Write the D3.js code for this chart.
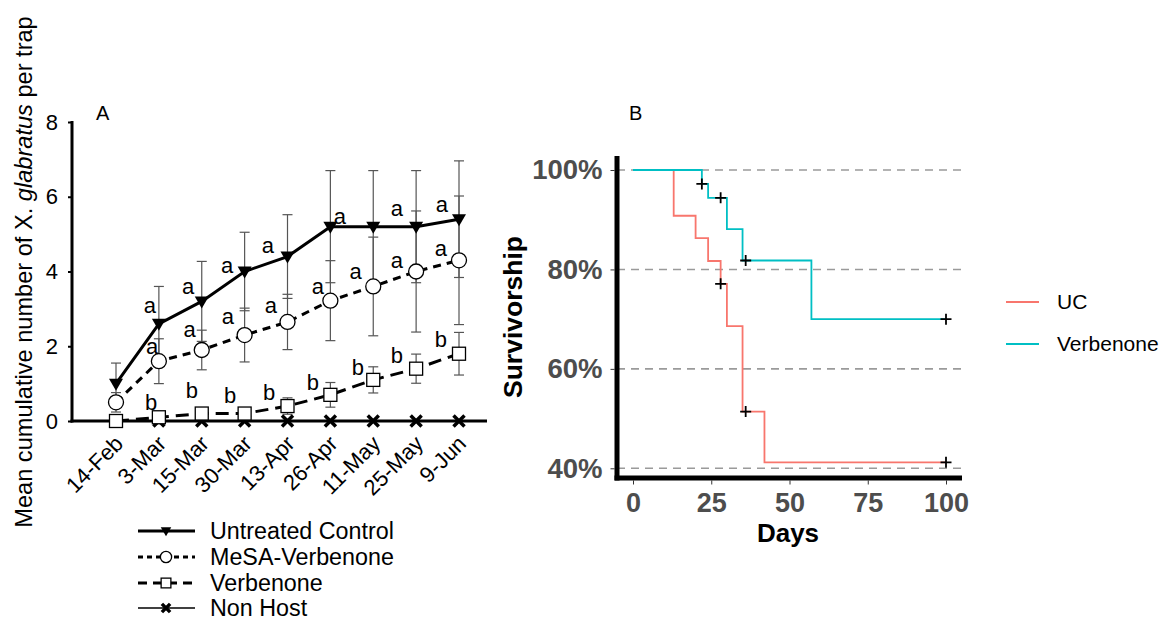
<!DOCTYPE html>
<html>
<head>
<meta charset="utf-8">
<script src="https://cdn.jsdelivr.net/npm/d3@7"></script>
<style>
  body { margin: 0; background: #fff; }
  svg { display: block; font-family: Arial, 'Liberation Sans', sans-serif; }
</style>
</head>
<body>
<div class="canvas"></div>
<script>
// panel A data: cumulative trap catches
const dates = ['14-Feb', '3-Mar', '15-Mar', '30-Mar', '13-Apr', '26-Apr', '11-May', '25-May', '9-Jun'];
const untreated = [1.0, 2.6, 3.2, 4.0, 4.4, 5.2, 5.2, 5.2, 5.4];
const untreatedSE = [0.55, 1.0, 1.07, 1.05, 1.12, 1.5, 1.5, 1.5, 1.56];
const mesa = [0.5, 1.6, 1.9, 2.3, 2.65, 3.22, 3.6, 4.0, 4.3];
const mesaSE = [0.26, 0.6, 0.53, 0.72, 0.74, 1.07, 1.32, 1.62, 1.72];
const verbenone = [0, 0.1, 0.2, 0.2, 0.4, 0.7, 1.1, 1.4, 1.8];
const verbenoneSE = [0, 0, 0, 0, 0.22, 0.33, 0.35, 0.39, 0.57];
const nonHost = [0, 0, 0, 0, 0, 0, 0, 0, 0];
const yTicksA = [0, 2, 4, 6, 8];

// significance letters, placed in data units (date index, y value)
const lettersUntreated = [[0.79, 3.05], [1.68, 3.56], [2.59, 4.12], [3.54, 4.65], [5.22, 5.43], [6.55, 5.64], [7.6, 5.75]];
const lettersMesa = [[0.84, 1.95], [1.72, 2.41], [2.61, 2.75], [3.61, 3.05], [4.71, 3.56], [5.59, 3.96], [6.55, 4.25], [7.58, 4.57]];
const lettersVerbenone = [[0.82, 0.51], [1.77, 0.83], [2.66, 0.7], [3.57, 0.78], [4.59, 1.04], [5.64, 1.44], [6.55, 1.76], [7.58, 2.19]];

// panel B data: survival steps [day, survival]
const ucSteps = [[0, 1], [13, 0.908], [20, 0.863], [24, 0.817], [28, 0.771], [30, 0.686], [35, 0.514], [42, 0.412], [100, 0.412]];
const ucCensor = [[28, 0.771], [36, 0.514], [100, 0.412]];
const verbSteps = [[0, 1], [22, 0.972], [24, 0.944], [30, 0.881], [35, 0.818], [57, 0.70], [100, 0.70]];
const verbCensor = [[22, 0.972], [28, 0.944], [36, 0.818], [100, 0.70]];
const yTicksB = [0.4, 0.6, 0.8, 1.0];
const xTicksB = [0, 25, 50, 75, 100];

const svg = d3.select('.canvas').append('svg')
  .attr('width', 1160)
  .attr('height', 621);

// !------------------------------- panel A
const xA = d3.scalePoint().domain(dates).range([116, 459]);
const xIdx = d3.scaleLinear().domain([0, dates.length - 1]).range(xA.range());
const yA = d3.scaleLinear().domain([0, 8]).range([421, 122]);

const gA = svg.append('g');

// y axis
const yAxisA = gA.append('g')
  .attr('transform', 'translate(72,0)')
  .call(d3.axisLeft(yA).tickValues(yTicksA).tickSize(4).tickPadding(10));
yAxisA.select('.domain').remove();
yAxisA.selectAll('line').attr('stroke', '#000').attr('stroke-width', 2);
yAxisA.selectAll('text')
  .attr('font-size', 22)
  .attr('fill', '#000')
  .attr('font-family', 'Arial, Liberation Sans');

gA.append('line')
  .attr('x1', 72).attr('x2', 72)
  .attr('y1', yA(8) - 1).attr('y2', yA(0) + 1.5)
  .attr('stroke', '#000').attr('stroke-width', 3);

// x axis
const xAxisA = gA.append('g')
  .attr('transform', `translate(0, ${yA(0)})`)
  .call(d3.axisBottom(xA).tickSize(0));
xAxisA.select('.domain').remove();
xAxisA.selectAll('text')
  .attr('font-size', 22)
  .attr('fill', '#000')
  .attr('font-family', 'Arial, Liberation Sans')
  .attr('text-anchor', 'end')
  .attr('dy', null)
  .attr('y', null)
  .attr('transform', 'translate(8,24) rotate(-45)');

gA.append('line')
  .attr('x1', 70.5).attr('x2', 487)
  .attr('y1', yA(0)).attr('y2', yA(0))
  .attr('stroke', '#000').attr('stroke-width', 3);

// y title
const title = gA.append('text')
  .attr('transform', `translate(32, ${272}) rotate(-90)`)
  .attr('text-anchor', 'middle')
  .attr('font-size', 23.6);
title.append('tspan').text('Mean cumulative number of X. ');
title.append('tspan').attr('font-style', 'italic').text('glabratus');
title.append('tspan').text(' per trap');

gA.append('text')
  .attr('x', 96).attr('y', 120)
  .attr('font-size', 20)
  .text('A');

const seriesA = [
  { name: 'Untreated Control', values: untreated, se: untreatedSE, dash: null, width: 3, marker: 'tri' },
  { name: 'MeSA-Verbenone', values: mesa, se: mesaSE, dash: '8,6', width: 3, marker: 'circle' },
  { name: 'Verbenone', values: verbenone, se: verbenoneSE, dash: '13,7', width: 3, marker: 'square' },
  { name: 'Non Host', values: nonHost, se: null, dash: null, width: 1.5, marker: 'cross' },
];

const lineA = d3.line()
  .x((d, i) => xA(dates[i]))
  .y((d) => yA(d));

// lines
seriesA.forEach((s) => {
  gA.append('path')
    .datum(s.values)
    .attr('d', lineA)
    .attr('fill', 'none')
    .attr('stroke', '#000')
    .attr('stroke-width', s.width)
    .attr('stroke-dasharray', s.dash);
});

// error bars
seriesA.filter((s) => s.se).forEach((s) => {
  const bars = gA.append('g').attr('stroke', '#555').attr('stroke-width', 1.2);
  s.values.forEach((v, i) => {
    const e = s.se[i];
    if (!e) return;
    const x = xA(dates[i]);
    bars.append('line').attr('x1', x).attr('x2', x).attr('y1', yA(v - e)).attr('y2', yA(v + e));
    bars.append('line').attr('x1', x - 5).attr('x2', x + 5).attr('y1', yA(v - e)).attr('y2', yA(v - e));
    bars.append('line').attr('x1', x - 5).attr('x2', x + 5).attr('y1', yA(v + e)).attr('y2', yA(v + e));
  });
});

function drawMarker(g, type, x, y, scale) {
  const k = scale || 1;
  if (type === 'tri') {
    g.append('path')
      .attr('d', `M${x - 7 * k},${y - 5 * k} L${x + 7 * k},${y - 5 * k} L${x},${y + 7 * k} Z`)
      .attr('fill', '#000');
  } else if (type === 'circle') {
    g.append('circle')
      .attr('cx', x).attr('cy', y).attr('r', 7.5 * k)
      .attr('fill', '#fff').attr('stroke', '#000').attr('stroke-width', 1.3);
  } else if (type === 'square') {
    g.append('rect')
      .attr('x', x - 6.5 * k).attr('y', y - 6.5 * k)
      .attr('width', 13 * k).attr('height', 13 * k)
      .attr('fill', '#fff').attr('stroke', '#000').attr('stroke-width', 1.3);
  } else if (type === 'cross') {
    const r = 5.5 * k;
    g.append('path')
      .attr('d', `M${x - r},${y - r} L${x + r},${y + r} M${x - r},${y + r} L${x + r},${y - r}`)
      .attr('stroke', '#000').attr('stroke-width', 3.5);
  }
}

// markers (draw bottom series first so untreated sits on top)
[...seriesA].reverse().forEach((s) => {
  const g = gA.append('g');
  s.values.forEach((v, i) => drawMarker(g, s.marker, xA(dates[i]), yA(v)));
});

// letters
const letterSets = [
  { pts: lettersUntreated, label: 'a' },
  { pts: lettersMesa, label: 'a' },
  { pts: lettersVerbenone, label: 'b' },
];
letterSets.forEach((set) => {
  gA.append('g').selectAll('text')
    .data(set.pts)
    .enter()
    .append('text')
    .attr('x', (d) => xIdx(d[0]))
    .attr('y', (d) => yA(d[1]))
    .attr('dy', set.label === 'a' ? '0.28em' : '0.36em')
    .attr('text-anchor', 'middle')
    .attr('font-size', 22)
    .text(set.label);
});

// legend A
const legendA = gA.append('g');
const legRows = [531, 557, 583, 608];
seriesA.forEach((s, i) => {
  const y = legRows[i];
  legendA.append('line')
    .attr('x1', 138).attr('x2', 195)
    .attr('y1', y).attr('y2', y)
    .attr('stroke', '#000')
    .attr('stroke-width', s.width)
    .attr('stroke-dasharray', s.marker === 'circle' ? '5,4' : s.marker === 'square' ? '9,6' : null);
  drawMarker(legendA, s.marker, 166, y, 0.75);
  legendA.append('text')
    .attr('x', 210).attr('y', y)
    .attr('dy', '0.35em')
    .attr('font-size', 23.3)
    .text(s.name);
});

// !------------------------------- panel B
const xB = d3.scaleLinear().domain([0, 100]).range([633, 946]);
const yB = d3.scaleLinear().domain([0.4, 1.0]).range([468.3, 170]);
const gB = svg.append('g');

// grid lines
gB.append('g').selectAll('line')
  .data(yTicksB)
  .enter()
  .append('line')
  .attr('x1', 617).attr('x2', 962)
  .attr('y1', (d) => yB(d)).attr('y2', (d) => yB(d))
  .attr('stroke', '#9a9a9a')
  .attr('stroke-width', 1.6)
  .attr('stroke-dasharray', '8,6');

const yAxisB = gB.append('g')
  .attr('transform', 'translate(614.5,0)')
  .call(d3.axisLeft(yB).tickValues(yTicksB).tickFormat(d3.format('.0%')).tickSize(4).tickPadding(8));
yAxisB.select('.domain').remove();
yAxisB.selectAll('line').attr('stroke', '#333');
yAxisB.selectAll('text')
  .attr('font-size', 27.5)
  .attr('font-weight', 'bold')
  .attr('fill', '#4d4d4d')
  .attr('font-family', 'Arial, Liberation Sans');

const xAxisB = gB.append('g')
  .attr('transform', 'translate(0,480.5)')
  .call(d3.axisBottom(xB).tickValues(xTicksB).tickSize(4).tickPadding(8));
xAxisB.select('.domain').remove();
xAxisB.selectAll('line').attr('stroke', '#333');
xAxisB.selectAll('text')
  .attr('font-size', 27)
  .attr('font-weight', 'bold')
  .attr('fill', '#4d4d4d')
  .attr('font-family', 'Arial, Liberation Sans');

// thick axis lines
gB.append('line')
  .attr('x1', 617).attr('x2', 617).attr('y1', 156).attr('y2', 480.5)
  .attr('stroke', '#000').attr('stroke-width', 5);
gB.append('line')
  .attr('x1', 614.5).attr('x2', 962).attr('y1', 478).attr('y2', 478)
  .attr('stroke', '#000').attr('stroke-width', 5);

const stepLine = d3.line()
  .x((d) => xB(d[0]))
  .y((d) => yB(d[1]))
  .curve(d3.curveStepAfter);

const curves = [
  { name: 'UC', steps: ucSteps, censor: ucCensor, color: '#F8766D' },
  { name: 'Verbenone', steps: verbSteps, censor: verbCensor, color: '#00BFC4' },
];

curves.forEach((c) => {
  gB.append('path')
    .datum(c.steps)
    .attr('d', stepLine)
    .attr('fill', 'none')
    .attr('stroke', c.color)
    .attr('stroke-width', 1.8);
});
curves.forEach((c) => {
  gB.append('g').selectAll('path')
    .data(c.censor)
    .enter()
    .append('path')
    .attr('d', (d) => {
      const x = xB(d[0]), y = yB(d[1]);
      return `M${x - 5.5},${y} H${x + 5.5} M${x},${y - 5.5} V${y + 5.5}`;
    })
    .attr('stroke', '#000')
    .attr('stroke-width', 1.8);
});

gB.append('text')
  .attr('transform', 'translate(522,317) rotate(-90)')
  .attr('text-anchor', 'middle')
  .attr('font-size', 26.5)
  .attr('font-weight', 'bold')
  .text('Survivorship');

gB.append('text')
  .attr('x', 788).attr('y', 542)
  .attr('text-anchor', 'middle')
  .attr('font-size', 26)
  .attr('font-weight', 'bold')
  .text('Days');

gB.append('text')
  .attr('x', 629).attr('y', 120)
  .attr('font-size', 20)
  .text('B');

// legend B
const legendB = gB.append('g');
curves.forEach((c, i) => {
  const y = [302, 344][i];
  legendB.append('line')
    .attr('x1', 1006).attr('x2', 1039)
    .attr('y1', y).attr('y2', y)
    .attr('stroke', c.color)
    .attr('stroke-width', 2);
  legendB.append('text')
    .attr('x', 1057).attr('y', y)
    .attr('dy', '0.35em')
    .attr('font-size', 21)
    .text(c.name);
});
</script>
</body>
</html>
